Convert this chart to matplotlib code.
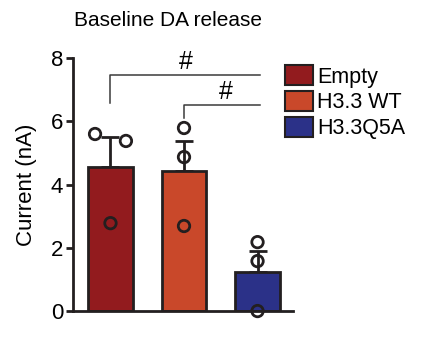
import matplotlib
matplotlib.use("Agg")
import matplotlib.pyplot as plt
from matplotlib.patches import Patch

plt.rcParams['font.family'] = ['Liberation Sans', 'DejaVu Sans']

groups = ["Empty", "H3.3 WT", "H3.3Q5A"]
means = [4.57, 4.43, 1.23]
sems = [0.93, 0.95, 0.67]
points = [[5.60, 5.38, 2.78], [5.79, 4.87, 2.69], [2.18, 1.58, 0.0]]
point_offsets = [[-0.21, 0.21, 0.0], [0.0, 0.0, 0.0], [0.0, 0.0, 0.0]]
colors = ["#921B1E", "#C9482A", "#2B3188"]
title = "Baseline DA release"
ylabel = "Current (nA)"
yticks = [0, 2, 4, 6, 8]

dark = "#231F20"
fig = plt.figure(figsize=(4.41, 3.46), dpi=100)
ax = fig.add_axes([0.1655, 0.101, 0.4985, 0.731])

x = list(range(len(groups)))
ax.bar(x, means, width=0.61, color=colors, edgecolor=dark, linewidth=2, zorder=2)
ax.errorbar(x, [m for m in means], yerr=[[0]*3, sems], fmt='none', ecolor=dark,
            elinewidth=2, capsize=6.5, capthick=2, zorder=1)
for i, (pts, offs) in enumerate(zip(points, point_offsets)):
    ax.scatter([i + o for o in offs], pts, s=68, facecolors='none', edgecolors=dark,
               linewidths=2, zorder=4, clip_on=False)

# significance brackets
lc = "#3a3a3a"
ax.plot([0, 0, 2.04], [6.58, 7.47, 7.47], color=lc, lw=1.1, clip_on=False)
ax.text(1.03, 7.5, "#", ha='center', va='bottom', fontsize=18)
ax.plot([1, 1, 2.04], [6.1, 6.52, 6.52], color=lc, lw=1.1, clip_on=False)
ax.text(1.57, 6.55, "#", ha='center', va='bottom', fontsize=18)

ax.set_xlim(-0.51, 2.48)
ax.set_ylim(0, 8)
ax.set_yticks(yticks)
ax.set_xticks([])
ax.tick_params(axis='y', labelsize=16, width=2, length=5, color=dark, pad=2)
for s in ['top', 'right']:
    ax.spines[s].set_visible(False)
for s in ['left', 'bottom']:
    ax.spines[s].set_linewidth(2)
    ax.spines[s].set_color(dark)
ax.set_ylabel(ylabel, fontsize=16, labelpad=10)
fig.text(0.38, 0.942, title, ha='center', va='center', fontsize=15)

handles = [Patch(facecolor=c, edgecolor=dark, linewidth=1.5) for c in colors]
fig.legend(handles, groups, loc='upper left', bbox_to_anchor=(0.627, 0.836),
           frameon=False, fontsize=15.5, handlelength=1.3, handleheight=1.05,
           handletextpad=0.2, labelspacing=0.16, borderaxespad=0)

fig.savefig("out.png", dpi=100)
